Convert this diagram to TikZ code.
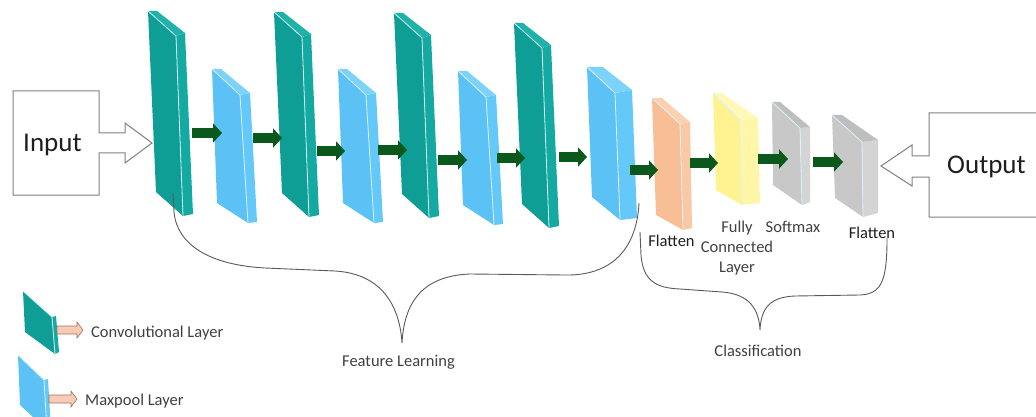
\documentclass[tikz,border=0pt]{standalone}
\usepackage{fontspec}
\setmainfont{Carlito}
\usetikzlibrary{arrows.meta}
\definecolor{convF}{RGB}{14,158,150}
\definecolor{convS}{RGB}{20,170,162}
\definecolor{convT}{RGB}{30,178,168}
\definecolor{poolF}{RGB}{92,194,246}
\definecolor{poolS}{RGB}{100,200,248}
\definecolor{poolT}{RGB}{125,210,250}
\definecolor{flatF}{RGB}{248,190,150}
\definecolor{flatS}{RGB}{249,200,165}
\definecolor{flatT}{RGB}{250,210,178}
\definecolor{fcF}{RGB}{255,243,145}
\definecolor{fcS}{RGB}{255,246,168}
\definecolor{fcT}{RGB}{255,248,185}
\definecolor{grayF}{RGB}{200,200,200}
\definecolor{grayS}{RGB}{212,212,212}
\definecolor{grayT}{RGB}{190,190,190}
\definecolor{arrowgreen}{RGB}{10,88,28}
\definecolor{boxgray}{RGB}{128,128,128}
\definecolor{bracegray}{RGB}{90,90,90}
\definecolor{labgray}{RGB}{64,64,64}
\definecolor{labdark}{RGB}{30,30,30}
\definecolor{legpink}{RGB}{248,203,183}
\definecolor{legline}{RGB}{165,115,95}
\tikzset{
  edge/.style={draw=white!85!cyan, line width=0.8pt},
  flow/.style={draw=arrowgreen, line width=10pt, -{Triangle[length=9pt,width=19pt]}},
  iobox/.style={draw=boxgray, line width=1pt, fill=white, line join=miter},
  brace/.style={draw=bracegray, line width=0.9pt},
  lab/.style={font=\fontsize{16.5}{20}\selectfont, text=labgray, inner sep=0pt, anchor=base},
  iolab/.style={font=\fontsize{27}{30}\selectfont, text=labdark, inner sep=0pt, anchor=base west},
  legarrow/.style={draw=legline, fill=legpink, line width=0.6pt},
}
% #1 name, #2 colour prefix, #3 origin, #4 A', #5 B, #6 C, #7 D, #8 E, #9 F
\newcommand\slab[9]{%
  \begin{scope}[shift={#3}]
    \coordinate (#1) at (0,0);
    \fill[#2F] (0,0) -- #6 -- #7 -- #9 -- cycle;
    \fill[#2S] #6 -- #5 -- #8 -- #7 -- cycle;
    \fill[#2T] (0,0) -- #4 -- #5 -- #6 -- cycle;
    \draw[edge] (0,0) -- #6 -- #7;
  \end{scope}}
\begin{document}
\begin{tikzpicture}[x=1pt,y=-1pt]
\useasboundingbox (0,0) rectangle (1036,417);
\clip (0,0) rectangle (1036,417);
\fill[white] (0,0) rectangle (1036,417);

% input box with hollow arrow
\draw[iobox] (99,133) -- (99,91) -- (13,91) -- (13,195) -- (99,195) -- (99,153)
  -- (125,153) -- (125,163) -- (152,143) -- (125,123) -- (125,133) -- cycle;
\node[iolab] (input) at (23,152) {Input};

% output box with hollow arrow
\draw[iobox] (1045,113) -- (929,113) -- (929,156) -- (912,156) -- (912,145) -- (881,166)
  -- (912,186) -- (912,177) -- (929,177) -- (929,217) -- (1045,217);
\node[iolab] (output) at (947,174) {Output};

% feature learning slabs
\slab{c1}{conv}{(148,11)}{(9,0)}{(37,22)}{(28,25)}{(35,205)}{(45,203)}{(8,181)}
\slab{m1}{pool}{(212,69)}{(9,0)}{(38,24)}{(28,26)}{(36,154)}{(45,153)}{(5,134)}
\slab{c2}{conv}{(274,12)}{(9,0)}{(37,22)}{(28,25)}{(35,205)}{(45,203)}{(8,181)}
\slab{m2}{pool}{(338,69)}{(9,0)}{(38,24)}{(28,26)}{(36,154)}{(45,153)}{(5,134)}
\slab{c3}{conv}{(394,13)}{(9,0)}{(37,22)}{(28,25)}{(35,205)}{(45,203)}{(8,181)}
\slab{m3}{pool}{(458,71)}{(9,0)}{(38,24)}{(28,26)}{(36,154)}{(45,153)}{(5,134)}
\slab{c4}{conv}{(514,23)}{(9,0)}{(37,22)}{(28,25)}{(35,205)}{(45,203)}{(8,181)}
\slab{m4}{pool}{(587,67)}{(16,0)}{(45,23)}{(28,26)}{(33,153)}{(50,151)}{(5,130)}

% classification slabs
\slab{fl}{flat}{(652,98)}{(10,0)}{(38,24)}{(28,26)}{(31,132)}{(40,130)}{(4,117)}
\slab{fc}{fc}{(713,93)}{(9,0)}{(45,25)}{(27,27)}{(29,112)}{(47,110)}{(3,97)}
\slab{sm}{gray}{(772,102)}{(8,0)}{(38,25)}{(28,26)}{(30,103)}{(38,100)}{(1,83)}
\slab{fo}{gray}{(832,115)}{(10,0)}{(46,25)}{(30,27)}{(31,102)}{(46,98)}{(3,83)}

% flow arrows
\coordinate (a1s) at (192,133); \coordinate (a1e) at (222,133);
\coordinate (a2s) at (253,138); \coordinate (a2e) at (282,138);
\coordinate (a3s) at (317,151); \coordinate (a3e) at (345,151);
\coordinate (a4s) at (378,150); \coordinate (a4e) at (407,150);
\coordinate (a5s) at (438,160); \coordinate (a5e) at (467,160);
\coordinate (a6s) at (497,158); \coordinate (a6e) at (525,158);
\coordinate (a7s) at (559,157); \coordinate (a7e) at (587,157);
\coordinate (a8s) at (630,170); \coordinate (a8e) at (658,170);
\coordinate (a9s) at (690,163); \coordinate (a9e) at (718,163);
\coordinate (a10s) at (758,159); \coordinate (a10e) at (788,159);
\coordinate (a11s) at (813,162); \coordinate (a11e) at (843,162);
\foreach \i in {1,...,11} { \draw[flow] (a\i s) -- (a\i e); }

% labels
\node[lab, text=labdark] (lflat) at (671.5,246) {Flatten};
\node[lab, align=center, anchor=north] (lfc) at (737,220.5) {Fully\\Connected\\Layer};
\node[lab] (lsoft) at (793,232) {Softmax};
\node[lab, text=labdark] (lflat2) at (872,238) {Flatten};

% braces
\draw[brace] (173,193) -- (174,212) .. controls (177,245) and (210,265) .. (265,268)
  -- (335,271) .. controls (385,274) and (400,310) .. (402,343)
  .. controls (404,305) and (420,276) .. (470,274) -- (565,275)
  .. controls (615,276) and (637,245) .. (639,203);
\node[lab] (lfeat) at (398.5,366) {Feature Learning};

\draw[brace] (640,232) -- (641,255) .. controls (643,280) and (655,288) .. (680,289)
  -- (722,292) .. controls (750,294) and (759,310) .. (760,330)
  .. controls (761,308) and (770,297) .. (795,296) -- (860,295)
  .. controls (882,294) and (887,280) .. (887,238);
\node[lab] (lclass) at (758,356) {Classification};

% legend
\fill[convF] (23,291) -- (52,317) -- (55,354) -- (25,332) -- cycle;
\fill[convS] (52,317) -- (56,316) -- (59,352) -- (55,354) -- cycle;
\draw[edge] (23,291) -- (52,317) -- (55,354);
\coordinate (lgc) at (57,326);
\draw[legarrow] (lgc) -- ++(20,0) -- ++(0,-4) -- ++(6,8) -- ++(-6,8) -- ++(0,-4) -- ++(-20,0) -- cycle;
\node[lab, anchor=base west] (lconv) at (91,337) {Convolutional Layer};

\fill[poolF] (18,355) -- (44,380) -- (47,430) -- (20,405) -- cycle;
\fill[poolS] (44,380) -- (48,379) -- (51,430) -- (47,430) -- cycle;
\draw[edge] (18,355) -- (44,380) -- (47,430);
\coordinate (lgm) at (49,395);
\draw[legarrow] (lgm) -- ++(22,0) -- ++(0,-4) -- ++(6,8) -- ++(-6,8) -- ++(0,-4) -- ++(-22,0) -- cycle;
\node[lab, anchor=base west] (lpool) at (85,405) {Maxpool Layer};
\end{tikzpicture}
\end{document}
